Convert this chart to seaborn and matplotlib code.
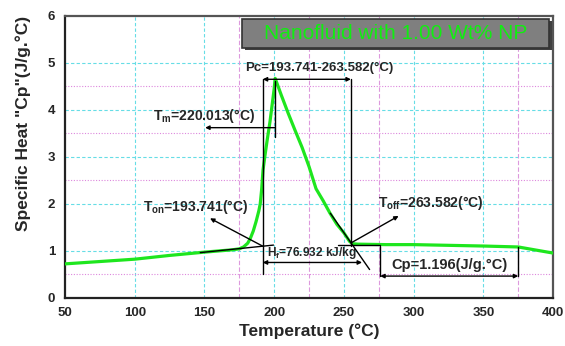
import numpy as np
import pandas as pd
import seaborn as sns
import matplotlib.pyplot as plt
from matplotlib.patches import Rectangle

# Cp curve
temperature = [50, 75, 100, 125, 150, 170, 175, 178, 181, 183, 185, 187, 189, 190,
               191, 192, 193.5, 195, 197, 198.5, 200, 200.7, 205, 210, 215, 220,
               225, 230, 235, 240, 245, 250, 254, 256, 260, 280, 300, 350, 375, 400]
cp = [0.72, 0.77, 0.82, 0.90, 0.97, 1.02, 1.04, 1.08, 1.16, 1.27, 1.42, 1.62, 1.85, 2.00,
      2.30, 2.72, 3.05, 3.36, 3.75, 4.10, 4.45, 4.67, 4.32, 3.93, 3.56, 3.20,
      2.79, 2.32, 2.07, 1.80, 1.56, 1.38, 1.20, 1.15, 1.14, 1.13, 1.13, 1.10, 1.08, 0.95]

# annotation values
t_on, t_peak, t_off = 191.8, 200.7, 255.0
cp_end = 375
title = 'Nanofluid with 1.00 Wt% NP'
pc_label = 'Pc=193.741-263.582(°C)'
tm_label = r'T$_{\mathrm{m}}$=220.013(°C)'
ton_label = r'T$_{\mathrm{on}}$=193.741(°C)'
toff_label = r'T$_{\mathrm{off}}$=263.582(°C)'
hf_label = r'H$_{\mathrm{f}}$=76.932 kJ/kg'
cp_label = 'Cp=1.196(J/g.°C)'

x_major = [100, 150, 200, 250, 300, 350]
y_major = [1, 2, 3, 4, 5]
x_minor = [175, 225, 275, 375]
y_minor = [0.5, 2.5, 3.5, 4.5]


def main():
    df = pd.DataFrame({'T': temperature, 'Cp': cp})

    sns.set_style('white')
    plt.rcParams['font.family'] = ['Liberation Sans', 'DejaVu Sans']
    plt.rcParams['mathtext.fontset'] = 'custom'
    plt.rcParams['mathtext.rm'] = 'Liberation Sans:bold'
    plt.rcParams['mathtext.it'] = 'Liberation Sans:bold'
    plt.rcParams['mathtext.bf'] = 'Liberation Sans:bold'

    fig = plt.figure(figsize=(5.65, 3.46), dpi=100)
    ax = fig.add_axes([0.115, 0.1396, 0.864, 0.8145])

    # grids
    for x in x_major:
        ax.axvline(x, color='#66dde6', lw=0.8, ls=(0, (3, 2)), zorder=0)
    for y in y_major:
        ax.axhline(y, color='#66dde6', lw=0.8, ls=(0, (3, 2)), zorder=0)
    for x in x_minor:
        ax.axvline(x, color='#dd99dd', lw=0.8, ls=(0, (4, 2)), zorder=0)
    for y in y_minor:
        ax.axhline(y, color='#dd88dd', lw=0.8, ls=(0, (1, 1.5)), zorder=0)

    sns.lineplot(data=df, x='T', y='Cp', ax=ax, color='#1ee61e', lw=2.3,
                 sort=False, zorder=3)

    k = dict(color='black', lw=1.0, zorder=4)
    arr = dict(color='black', lw=1.0, mutation_scale=6, shrinkA=0, shrinkB=0)
    # Pc bracket
    ax.plot([t_on, t_on], [0.5, 4.65], **k)
    ax.plot([t_off, t_off], [1.10, 4.65], **k)
    ax.annotate('', xy=(t_on, 4.65), xytext=(t_off, 4.65),
                arrowprops=dict(arrowstyle='<|-|>', **arr))
    ax.text(232, 4.9, pc_label, ha='center', va='center', fontsize=9.5,
            fontweight='bold')

    # Tm
    ax.plot([t_peak, t_peak], [3.43, 4.62], **k)
    ax.annotate('', xy=(150.5, 3.62), xytext=(t_peak, 3.62),
                arrowprops=dict(arrowstyle='-|>', **arr))
    ax.text(150, 3.86, tm_label, ha='center', va='center', fontsize=10,
            fontweight='bold')

    # onset
    ax.plot([147, 199.5], [0.96, 1.12], **k)
    ax.annotate('', xy=(154, 1.69), xytext=(191.6, 1.10),
                arrowprops=dict(arrowstyle='-|>', **arr))
    ax.text(144, 1.94, ton_label, ha='center', va='center', fontsize=10,
            fontweight='bold')

    # offset
    ax.plot([240.2, 268.4], [1.80, 0.60], **k)
    ax.plot([246, 276], [1.12, 1.12], **k)
    ax.annotate('', xy=(289.2, 1.74), xytext=(255.3, 1.17),
                arrowprops=dict(arrowstyle='-|>', **arr))
    ax.text(312.6, 2.01, toff_label, ha='center', va='center', fontsize=10,
            fontweight='bold')

    # Hf
    ax.annotate('', xy=(263, 0.75), xytext=(t_on, 0.75),
                arrowprops=dict(arrowstyle='<|-|>', **arr))
    ax.text(194.5, 0.95, hf_label, ha='left', va='center', fontsize=8.6,
            fontweight='bold')

    # Cp box
    ax.plot([276, 276], [1.10, 0.46], **k)
    ax.plot([cp_end, cp_end], [1.07, 0.46], **k)
    ax.annotate('', xy=(cp_end, 0.46), xytext=(276, 0.46),
                arrowprops=dict(arrowstyle='<|-|>', **arr))
    ax.text(326, 0.70, cp_label, ha='center', va='center', fontsize=10.5,
            fontweight='bold')

    # title box
    ax.add_patch(Rectangle((0.368, 0.878), 0.629, 0.103, transform=ax.transAxes,
                           facecolor='#404040', edgecolor='none', zorder=5))
    ax.add_patch(Rectangle((0.3627, 0.886), 0.629, 0.103, transform=ax.transAxes,
                           facecolor='#7f7f7f', edgecolor='#333333', lw=1.2,
                           zorder=6))
    ax.text(0.677, 0.938, title, transform=ax.transAxes, ha='center',
            va='center', fontsize=15, color='#11ee11', zorder=7)

    ax.set_xlim(50, 400)
    ax.set_ylim(0, 6)
    ax.set_xticks(np.arange(50, 401, 50))
    ax.set_xticks(np.arange(75, 400, 50), minor=True)
    ax.set_yticks(np.arange(0, 7, 1))
    ax.set_yticks(np.arange(0.5, 6, 1), minor=True)
    ax.tick_params(which='both', direction='in', length=4, width=1.2,
                   labelsize=9.5, pad=7)
    for lab in ax.get_xticklabels() + ax.get_yticklabels():
        lab.set_fontweight('bold')
    ax.set_xlabel('Temperature (°C)', fontsize=12.5, fontweight='bold')
    ax.set_ylabel('Specific Heat "Cp"(J/g.°C)', fontsize=12.5, fontweight='bold')
    ax.xaxis.set_label_coords(0.5, -0.09)
    ax.yaxis.set_label_coords(-0.07, 0.62)

    for side in ['left', 'bottom']:
        ax.spines[side].set_color('#222222')
        ax.spines[side].set_linewidth(1.6)
    for side in ['top', 'right']:
        ax.spines[side].set_color('#555555')
        ax.spines[side].set_linewidth(1.6)

    fig.savefig('out.png', dpi=100)


if __name__ == '__main__':
    main()
